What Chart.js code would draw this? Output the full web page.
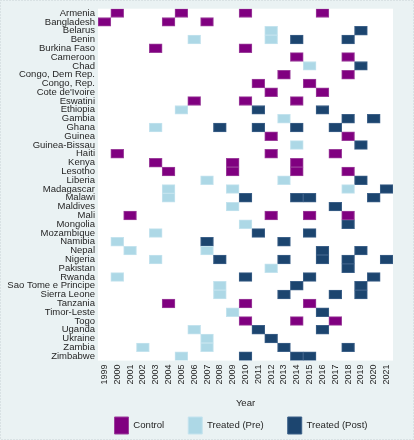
<!DOCTYPE html>
<html>
<head>
<meta charset="utf-8">
<style>
  html, body { margin: 0; padding: 0; background: #eaf2f3; }
  #wrap { width: 414px; height: 440px; }
</style>
<script src="https://cdn.jsdelivr.net/npm/chart.js@4.4.0/dist/chart.umd.min.js"></script>
</head>
<body>
<div id="wrap"><canvas id="chart-grid"></canvas></div>
<script>
// Rows (top to bottom)
const countries = [
  "Armenia", "Bangladesh", "Belarus", "Benin", "Burkina Faso", "Cameroon", "Chad",
  "Congo, Dem Rep.", "Congo, Rep.", "Cote de'Ivoire", "Eswatini", "Ethiopia", "Gambia",
  "Ghana", "Guinea", "Guinea-Bissau", "Haiti", "Kenya", "Lesotho", "Liberia",
  "Madagascar", "Malawi", "Maldives", "Mali", "Mongolia", "Mozambique", "Namibia",
  "Nepal", "Nigeria", "Pakistan", "Rwanda", "Sao Tome e Principe", "Sierra Leone",
  "Tanzania", "Timor-Leste", "Togo", "Uganda", "Ukraine", "Zambia", "Zimbabwe"
];

// x axis tick labels
const years = [1999, 2000, 2001, 2002, 2003, 2004, 2005, 2006, 2007, 2008, 2009, 2010,
  2011, 2012, 2013, 2014, 2015, 2016, 2017, 2018, 2019, 2020, 2021];

// survey years per country, same order as countries
const controlYears = [
  [2000, 2005, 2010, 2016], [1999, 2004, 2007], [], [], [2003, 2010], [2014, 2018], [],
  [2013, 2018], [2011, 2015], [2012, 2016], [2006, 2010, 2014], [], [],
  [], [2012, 2018], [], [2000, 2012, 2017], [2003, 2009, 2014], [2004, 2009, 2014, 2018], [],
  [], [], [], [2001, 2012, 2015, 2018], [], [], [],
  [], [], [], [], [], [],
  [2004, 2010, 2015], [], [2010, 2014, 2017], [], [], [], []
];

const preYears = [
  [], [], [2012], [2006, 2012], [], [], [2015],
  [], [], [], [], [2005], [2013],
  [2003], [], [2014], [], [], [], [2007, 2013],
  [2004, 2009, 2018], [2004], [2009], [], [2010], [2003], [2000],
  [2001, 2007], [2003], [2012], [2000], [2008], [2008],
  [], [2009], [], [2006], [2007], [2002, 2007], [2005]
];

const postYears = [
  [], [], [2019], [2014, 2018], [], [], [2019],
  [], [], [], [], [2011, 2016], [2018, 2020],
  [2008, 2011, 2014, 2017], [], [2019], [], [], [], [2019],
  [2021], [2010, 2014, 2015, 2020], [2017], [], [2018], [2011, 2015], [2007, 2013],
  [2016, 2019], [2008, 2013, 2016, 2018, 2021], [2018], [2010, 2015, 2020], [2014, 2019], [2013, 2017, 2019],
  [], [2016], [], [2011, 2016], [2012], [2013, 2018], [2010, 2014, 2015]
];

// one dataset per "layer" so a row can hold several cells of the same group
function buildSets(label, yearLists, fill, edge) {
  const depth = Math.max(...yearLists.map((l) => l.length));
  const sets = [];
  for (let k = 0; k < depth; k++) {
    sets.push({
      label: label,
      data: yearLists.map((l) => (l[k] === undefined ? null : [l[k] - 0.5, l[k] + 0.5])),
      backgroundColor: fill,
      borderColor: edge,
      borderWidth: 1,
      borderSkipped: false,
      grouped: false,
      categoryPercentage: 1,
      barPercentage: 1,
    });
  }
  return sets;
}

const datasets = [].concat(
  buildSets("Control", controlYears, "#800080", "#9b3f9b"),
  buildSets("Treated (Pre)", preYears, "#add8e6", "#c4e3ee"),
  buildSets("Treated (Post)", postYears, "#1c456f", "#3c6088")
);

// light page background, white plot region, legend placement
const panelBg = {
  id: "panelBg",
  beforeInit(chart) {
    // pull the legend a bit closer to the bottom edge
    const originalFit = chart.legend.fit;
    chart.legend.fit = function fit() {
      originalFit.bind(chart.legend)();
      this.height -= 4;
    };
  },
  afterLayout(chart) {
    // centre the legend row under the plot instead of the whole canvas
    chart.legend.left = chart.chartArea.left - 30;
    chart.legend.right = chart.width;
  },
  beforeDraw(chart) {
    const { ctx, chartArea } = chart;
    ctx.save();
    ctx.fillStyle = "#eaf2f3";
    ctx.fillRect(0, 0, chart.width, chart.height);
    ctx.fillStyle = "#ffffff";
    ctx.fillRect(chartArea.left, chartArea.top, chartArea.right - chartArea.left, chartArea.bottom - chartArea.top);
    ctx.setLineDash([1, 2]);
    ctx.strokeStyle = "#c9d3d5";
    ctx.lineWidth = 1;
    ctx.strokeRect(0.5, 0.5, chart.width - 1, chart.height - 1);
    ctx.restore();
  },
};

const fontFamily = "'Liberation Sans', Arial, sans-serif";
const textColor = "#262626";

var ctx = document.getElementById("chart-grid").getContext("2d");
var chart = new Chart(ctx, {
  type: "bar",
  plugins: [panelBg],
  data: {
    labels: countries,
    datasets: datasets,
  },
  options: {
    indexAxis: "y",
    responsive: true,
    maintainAspectRatio: false,
    animation: false,
    layout: {
      padding: { top: 8, right: 21, left: 0, bottom: 0 },
    },
    plugins: {
      tooltip: { enabled: false },
      legend: {
        display: true,
        position: "bottom",
        labels: {
          boxWidth: 14,
          boxHeight: 17,
          padding: 24,
          color: textColor,
          font: { family: fontFamily, size: 9.6 },
          filter: (item, data) =>
            data.datasets.findIndex((d) => d.label === item.text) === item.datasetIndex,
        },
      },
    },
    scales: {
      x: {
        type: "linear",
        min: 1998.5,
        max: 2021.5,
        afterBuildTicks: (scale) => {
          scale.ticks = years.map((v) => ({ value: v }));
        },
        grid: { display: false, drawTicks: false },
        border: { display: false },
        ticks: {
          autoSkip: false,
          minRotation: 90,
          maxRotation: 90,
          padding: 4,
          color: textColor,
          font: { family: fontFamily, size: 9 },
          callback: (value) => String(value),
        },
        title: {
          display: true,
          text: "Year",
          color: textColor,
          font: { family: fontFamily, size: 9.5 },
          padding: { top: 9, bottom: -16 },
        },
      },
      y: {
        type: "category",
        grid: { display: false, drawTicks: false },
        border: { display: false },
        afterFit: (scale) => {
          scale.width = 98;
        },
        ticks: {
          autoSkip: false,
          padding: 3,
          color: textColor,
          font: { family: fontFamily, size: 9.5 },
        },
      },
    },
  },
});
</script>
</body>
</html>
